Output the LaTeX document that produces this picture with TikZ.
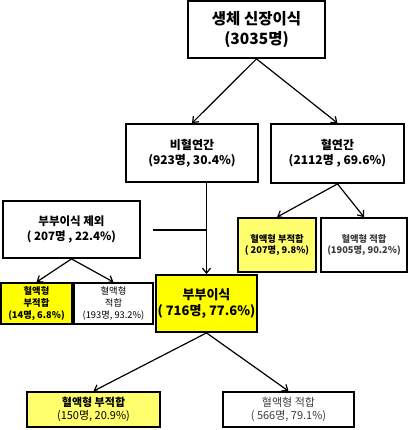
\documentclass[tikz,border=0pt]{standalone}
\usepackage{fontspec}
\setmainfont{Noto Sans CJK KR}
\usetikzlibrary{arrows.meta,positioning,calc}
\definecolor{matchyellow}{RGB}{255,255,0}
\definecolor{paleyellow}{RGB}{255,255,110}
\definecolor{softtext}{RGB}{60,60,60}
\newcommand{\fsz}[1]{\fontsize{#1}{1.25\dimexpr#1pt\relax}\selectfont}
\tikzset{
  tbox/.style={
    draw,
    line width=1.8pt,
    fill=white,
    align=center,
    inner sep=0pt
  },
  tbox hi/.style={tbox, fill=matchyellow},
  tbox pale/.style={tbox, fill=paleyellow},
  arrow/.style={
    -{Straight Barb[length=5pt,width=8pt]},
    line width=1.2pt
  }
}

\begin{document}
\begin{tikzpicture}[x=1pt,y=-1pt]
  \useasboundingbox (0,0) rectangle (412,430);

  % top level
  \node[tbox, minimum width=137, minimum height=57, font=\fsz{15.5}\bfseries]
    (live) at (256.5,29.5) {생체 신장이식\\(3035명)};

  % donor relation
  \node[tbox, minimum width=132, minimum height=58, font=\fsz{12}\bfseries]
    (unrel) at (192,153) {비혈연간\\(923명, 30.4\%)};
  \node[tbox, minimum width=133, minimum height=59, font=\fsz{12}\bfseries]
    (rel) at (337.5,153.5) {혈연간\\(2112명 , 69.6\%)};

  % spouse split
  \node[tbox, minimum width=137, minimum height=57, font=\fsz{11.5}\bfseries]
    (nospouse) at (71.5,229.5) {부부이식 제외\\( 207명 , 22.4\%)};
  \node[tbox hi, minimum width=101, minimum height=57, font=\fsz{13}\bfseries]
    (spouse) at (206.5,303.5) {부부이식\\( 716명, 77.6\%)};

  % blood type, related
  \node[tbox pale, minimum width=78, minimum height=54, font=\fsz{9.3}\bfseries]
    (relbad) at (277,245) {혈액형 부적합\\( 207명, 9.8\%)};
  \node[tbox, minimum width=86, minimum height=54, font=\fsz{9.3}\bfseries, text=softtext]
    (relok) at (364,245) {혈액형 적합\\(1905명, 90.2\%)};

  % blood type, non-spouse
  \node[tbox hi, minimum width=71, minimum height=41, font=\fsz{9.3}\bfseries]
    (nsbad) at (36.5,303.5) {혈액형\\부적합\\(14명, 6.8\%)};
  \node[tbox, minimum width=79, minimum height=41, font=\fsz{9.3}]
    (nsok) at (113.5,303.5) {혈액형\\적합\\(193명, 93.2\%)};

  % blood type, spouse
  \node[tbox pale, minimum width=133, minimum height=35, font=\fsz{11}]
    (spbad) at (93.5,409.5) {\textbf{혈액형 부적합}\\(150명, 20.9\%)};
  \node[tbox, minimum width=131, minimum height=35, font=\fsz{11}, text=softtext]
    (spok) at (288.5,409.5) {혈액형 적합\\( 566명, 79.1\%)};

  % connections
  \draw[arrow] (live.south) -- (unrel.north);
  \draw[arrow] (live.south) -- (rel.north);
  \draw[arrow] (unrel.south -| spouse.north) -- (spouse.north);
  \coordinate (stub) at (153,230);
  \draw[line width=1.2pt] (stub) -- (stub -| spouse.north);
  \draw[arrow] (nospouse.south) -- (nsbad.north);
  \draw[arrow] (nospouse.south) -- (nsok.north);
  \draw[arrow] (rel.south) -- (relbad.north);
  \draw[arrow] (rel.south) -- (relok.north);
  \draw[arrow] (spouse.south) -- (spbad.north);
  \draw[arrow] (spouse.south) -- (spok.north);

\end{tikzpicture}
\end{document}
